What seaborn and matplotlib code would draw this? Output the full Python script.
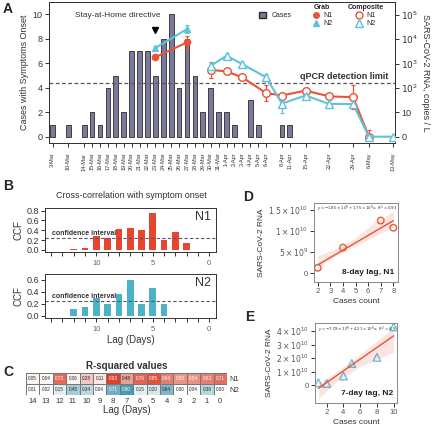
import numpy as np
import pandas as pd
import seaborn as sns
import matplotlib.pyplot as plt
from matplotlib.lines import Line2D
from matplotlib.patches import Patch
from matplotlib.ticker import NullLocator
from matplotlib.colors import LinearSegmentedColormap

# ---- panel A data ----
axis_days = ['3-Mar', None, '10-Mar', None, '14-Mar', '15-Mar', '16-Mar', '17-Mar', '18-Mar',
             '19-Mar', '20-Mar', '21-Mar', '22-Mar', '23-Mar', '24-Mar', '25-Mar', '26-Mar',
             '27-Mar', '28-Mar', '29-Mar', '30-Mar', '31-Mar', '1-Apr', '2-Apr', '3-Apr',
             '4-Apr', '5-Apr', '6-Apr', None, '8-Apr', '11-Apr', None, '15-Apr', None, None,
             '22-Apr', None, None, '29-Apr', None, '6-May', None, None, '13-May']
case_days = ['3-Mar', '10-Mar', '14-Mar', '15-Mar', '16-Mar', '17-Mar', '18-Mar', '19-Mar',
             '20-Mar', '21-Mar', '22-Mar', '23-Mar', '24-Mar', '25-Mar', '26-Mar', '27-Mar',
             '28-Mar', '29-Mar', '30-Mar', '31-Mar', '1-Apr', '2-Apr', '4-Apr', '5-Apr',
             '8-Apr', '11-Apr']
case_counts = [1, 1, 1, 2, 1, 4, 5, 2, 7, 7, 7, 5, 8, 10, 4, 8, 5, 2, 4, 2, 2, 1, 3, 1, 1, 1]

grab_days = ['23-Mar', '27-Mar']
grab_n1 = [1860, 7400]
grab_n1_err = [0.06, 0.27]      # log10 units
grab_n2 = [4400, 26000]
grab_n2_err = [0.08, 0.17]

comp_days = ['30-Mar', '1-Apr', '3-Apr', '6-Apr', '8-Apr', '15-Apr', '22-Apr', '29-Apr',
             '6-May', '13-May']
comp_n1 = [550, 480, 270, 62, 49, 78, 45, 42, 0, np.nan]
comp_n1_err = [0.33, 0.1, 0.06, 0.34, 0.1, 0.12, 0.08, 0.48, 0.27, 0]
comp_n2 = [810, 2100, 950, 275, 23, 49, 22, 22, 0, 0]
comp_n2_err = [0.1, 0.1, 0.08, 0.15, 0.4, 0.08, 0.05, 0.12, 0, 0]
qpcr_limit = 160

# ---- panel B / C data ----
lags = list(range(14, -1, -1))
ccf_n1 = [0, 0, 0.02, 0.04, 0.28, 0.25, 0.42, 0.45, 0.41, 0.75, 0.20, 0.36, 0.15, 0, 0]
ccf_n2 = [0, 0, 0.11, 0.155, 0.29, 0.20, 0.37, 0.59, 0.19, 0.46, 0.19, 0, 0, 0, 0]
ccf_ci = 0.25
r2_n1 = [0.05, 0.04, 0.73, 0.06, 0.28, 0.11, 0.93, 0.48, 0.76, 0.85, 0.64, 0.53, 0.54, 0.63, 0.71]
r2_n2 = [0.01, 0.02, 0.15, 0.45, 0.34, 0.04, 0.71, 0.90, 0.15, 0.20, 0.64, 0.00, 0.04, 0.36, 0.03]

# ---- panel D / E data ----
d_cases = [2, 4, 7, 8]
d_rna = [1.3e9, 6.1e9, 1.25e10, 1.08e10]
e_cases = [1, 2, 4, 5, 8, 10]
e_rna = [0.18e10, 0.12e10, 0.68e10, 1.6e10, 2.05e10, 4.3e10]

RED = '#ea5338'
CYAN = '#5ec3da'
BAR = '#7c7a9c'
TXT = '#333333'

sns.set_style('ticks')
plt.rcParams['font.family'] = ['Liberation Sans', 'DejaVu Sans']
plt.rcParams['axes.linewidth'] = 0.7
plt.rcParams['axes.edgecolor'] = '#333333'
plt.rcParams['xtick.major.width'] = 0.7
plt.rcParams['ytick.major.width'] = 0.7
plt.rcParams['xtick.color'] = TXT
plt.rcParams['ytick.color'] = TXT

W, H = 436, 440
fig = plt.figure(figsize=(W / 100, H / 100), dpi=100)


def rect(l, t, r, b):
    return [l / W, 1 - b / H, (r - l) / W, (b - t) / H]


pos = {d: i for i, d in enumerate(axis_days) if d}


def to_axis(v):
    v = np.asarray(v, dtype=float)
    return np.where(v == 0, 1.0, v)


# ================= A =================
axA = fig.add_axes(rect(49, 2, 395, 143))
sns.barplot(x=[pos[d] for d in case_days], y=case_counts, native_scale=True, width=0.6,
            color=BAR, saturation=1, edgecolor='#2a2a2a', linewidth=0.6, errorbar=None, ax=axA)
axA.set_ylim(-0.49, 10.98)
axA.set_yticks(range(0, 11, 2))
axA.tick_params(axis='y', labelsize=6.5, length=3, pad=1.5)
axA.set_ylabel('Cases with Symptoms Onset', fontsize=6.5, color=TXT, labelpad=3)
tick_days = [d for d in axis_days if d]
axA.set_xticks([pos[d] for d in tick_days])
axA.set_xticklabels(tick_days, rotation=90, fontsize=4)
axA.tick_params(axis='x', length=3, pad=4)
axA.set_xlabel('')
axA.plot(pos['23-Mar'], 8.7, marker='v', color='black', ms=4.5)
axA.text(8.2, 9.9, 'Stay-at-Home directive', ha='center', va='center', fontsize=6, color=TXT)

axR = axA.twinx()
axR.set_yscale('log')
series = [
    (grab_days, grab_n1, grab_n1_err, RED, 'o', RED, 4.5),
    (grab_days, grab_n2, grab_n2_err, CYAN, '^', CYAN, 5),
    (comp_days, comp_n1, comp_n1_err, RED, 'o', 'white', 5.5),
    (comp_days, comp_n2, comp_n2_err, CYAN, '^', 'white', 6),
]
for days, vals, errs, col, mk, face, ms in series:
    vals = np.asarray(vals, dtype=float)
    keep = ~np.isnan(vals)
    x = np.array([pos[d] for d in days])[keep]
    y = to_axis(vals[keep])
    e = np.asarray(errs)[keep]
    lo = np.where(vals[keep] == 0, 0, y * (1 - 10 ** -e))
    hi = y * (10 ** e - 1)
    axR.errorbar(x, y, yerr=[lo, hi], fmt='none', ecolor=col, elinewidth=0.9, capsize=1.5,
                 capthick=0.9, zorder=2)
    sns.lineplot(x=x, y=y, color=col, marker=mk, markersize=ms, markerfacecolor=face,
                 markeredgecolor=col, markeredgewidth=1, linewidth=1.5, errorbar=None,
                 sort=False, ax=axR, zorder=3)
axR.axhline(qpcr_limit, color='#555555', ls=(0, (3, 2)), lw=0.9)
axR.text(42.4, qpcr_limit * 1.25, 'qPCR detection limit', ha='right', va='bottom',
         fontsize=6.5, fontweight='bold', color=TXT)
axR.set_ylim(10 ** -0.26, 10 ** 5.53)
axR.set_yticks([1, 10, 1e2, 1e3, 1e4, 1e5])
axR.set_yticklabels(['0', '10', '$10^2$', '$10^3$', '$10^4$', '$10^5$'])
axR.yaxis.set_minor_locator(NullLocator())
axR.tick_params(axis='y', labelsize=6.5, length=3, pad=1.5)
axR.set_ylabel('SARS-CoV-2 RNA, copies / L', fontsize=6.5, color=TXT, rotation=270,
               labelpad=8)
axR.set_xlabel('')
axA.set_xlim(-0.45, 43.3)

leg1 = axR.legend(handles=[Patch(facecolor=BAR, edgecolor='#2a2a2a', label='Cases')],
                  loc='center', bbox_to_anchor=(0.655, 0.905), frameon=False, fontsize=5,
                  handlelength=1, handleheight=1, handletextpad=0.8)
axR.add_artist(leg1)
grab_h = [Line2D([], [], color=RED, marker='o', ms=4, lw=0, label='N1'),
          Line2D([], [], color=CYAN, marker='^', ms=4.5, lw=0, label='N2')]
leg2 = axR.legend(handles=grab_h, title='Grab', loc='upper center',
                  bbox_to_anchor=(0.79, 1.02), frameon=False, fontsize=5,
                  title_fontproperties={'weight': 'bold', 'size': 5}, handlelength=1,
                  labelspacing=0.15, borderpad=0.2, handletextpad=0.6)
axR.add_artist(leg2)
comp_h = [Line2D([], [], color=RED, marker='o', ms=5, mfc='white', lw=0, label='N1'),
          Line2D([], [], color=CYAN, marker='^', ms=5.5, mfc='white', lw=0, label='N2')]
axR.legend(handles=comp_h, title='Composite', loc='upper center',
           bbox_to_anchor=(0.915, 1.02), frameon=False, fontsize=5,
           title_fontproperties={'weight': 'bold', 'size': 5}, handlelength=1,
           labelspacing=0.15, borderpad=0.2, handletextpad=0.6)

# ================= B =================
fig.text(131 / W, 1 - 195 / H, 'Cross-correlation with symptom onset', ha='center',
         va='center', fontsize=6.5, color=TXT)
for rc, vals, col, name, top, ymax in [
        ((45, 208, 216, 252), ccf_n1, '#e8452f', 'N1', 0.855, 0.8),
        ((45, 274, 216, 318), ccf_n2, '#4bb2c8', 'N2', 0.695, 0.6)]:
    ax = fig.add_axes(rect(*rc))
    sns.barplot(x=lags, y=vals, native_scale=True, width=0.6, color=col, saturation=1,
                linewidth=0, errorbar=None, ax=ax)
    ax.axhline(ccf_ci, color='#555577', ls=(0, (3, 2)), lw=0.8)
    ax.text(13.9, ccf_ci + 0.015, 'confidence interval', fontsize=5, fontweight='bold',
            color=TXT, va='bottom', ha='left')
    ax.text(0.97, 0.93, name, transform=ax.transAxes, fontsize=9, ha='right', va='top',
            color=TXT)
    ax.set_xlim(14.55, -0.6)
    ax.set_ylim(-top * 0.05, top)
    ax.set_yticks(np.arange(0, ymax + 0.01, 0.2))
    ax.set_yticklabels([f'{v:.1f}' for v in np.arange(0, ymax + 0.01, 0.2)])
    ax.set_xticks(range(0, 15))
    ax.set_xticklabels([str(v) if v % 5 == 0 else '' for v in range(0, 15)])
    ax.tick_params(axis='y', labelsize=6.5, length=3, pad=1.5)
    ax.tick_params(axis='x', labelsize=5.5, length=3, pad=3, labelcolor='#666666')
    ax.set_ylabel('CCF', fontsize=7, color=TXT, labelpad=2)
    ax.set_xlabel('')
ax.set_xlabel('Lag (Days)', fontsize=7, color=TXT, labelpad=1)

# ================= C =================
axC = fig.add_axes(rect(26, 373, 227, 395))
r2 = pd.DataFrame([r2_n1, r2_n2], index=['N1', 'N2'], columns=lags)
reds = LinearSegmentedColormap.from_list('r', ['white', '#d8341f'])
blues = LinearSegmentedColormap.from_list('b', ['white', '#3590ab'])
row_mask = np.array([[False] * 15, [True] * 15])
for m, cm in [(row_mask, reds), (~row_mask, blues)]:
    sns.heatmap(r2, mask=m, cmap=cm, vmin=0, vmax=1, annot=True, fmt='.2f',
                annot_kws={'size': 3.3}, linewidths=0.6, linecolor='#777777', cbar=False,
                xticklabels=True, yticklabels=True, ax=axC)
axC.set_title('R-squared values', fontsize=7, fontweight='bold', color=TXT, pad=3)
axC.set_xticklabels(lags, fontsize=5.5, rotation=0)
axC.yaxis.tick_right()
axC.set_yticklabels(['N1', 'N2'], fontsize=5.5, rotation=0)
axC.tick_params(length=0, pad=2)
axC.set_xlabel('Lag (Days)', fontsize=7, color=TXT, labelpad=0)
axC.set_ylabel('')

# ================= D / E =================
axD = fig.add_axes(rect(314, 203, 398, 282))
sns.regplot(x=d_cases, y=d_rna, color=RED, marker='o', ci=80, n_boot=2000, seed=1, ax=axD,
            scatter_kws={'s': 22, 'facecolors': 'none', 'edgecolors': RED, 'linewidths': 1,
                         'alpha': 1},
            line_kws={'color': RED, 'lw': 1})
axD.set_xlim(1.7, 8.37)
axD.set_ylim(-2.06e9, 1.666e10)
axD.set_xticks(range(2, 9))
axD.set_yticks([0, 5e9, 1e10, 1.5e10])
axD.set_yticklabels(['0', r'$5\times10^9$', r'$1\times10^{10}$', r'$1.5\times10^{10}$'])
axD.text(0.04, 0.93, r'$y=-1.85\times10^{9}+1.75\times10^{9}x,\ R^2=0.93$',
         transform=axD.transAxes, fontsize=2.8, va='center', color=TXT)
axD.text(0.96, 0.07, '8-day lag, N1', transform=axD.transAxes, fontsize=6,
         fontweight='bold', ha='right', va='bottom', color='#222222')

axE = fig.add_axes(rect(315, 323, 397, 403))
sns.regplot(x=e_cases, y=e_rna, color=CYAN, marker='^', ci=95, n_boot=2000, seed=1, ax=axE,
            scatter_kws={'s': 30, 'facecolors': 'none', 'edgecolors': CYAN, 'linewidths': 1,
                         'alpha': 1},
            line_kws={'color': RED, 'lw': 1})
axE.set_xlim(0.6, 10.4)
axE.set_ylim(-1.32e10, 4.59e10)
axE.set_xticks([2, 4, 6, 8, 10])
axE.set_yticks([0, 1e10, 2e10, 3e10, 4e10])
axE.set_yticklabels(['0'] + [rf'${k}\times10^{{10}}$' for k in range(1, 5)])
axE.text(0.04, 0.92, r'$y=-7.09\times10^{9}+4.21\times10^{9}x,\ R^2=0.9$',
         transform=axE.transAxes, fontsize=2.8, va='center', color=TXT)
axE.text(0.96, 0.07, '7-day lag, N2', transform=axE.transAxes, fontsize=6,
         fontweight='bold', ha='right', va='bottom', color='#222222')

for ax in (axD, axE):
    ax.tick_params(labelsize=5.5, length=3, pad=1.5, labelcolor='#555555')
    ax.set_ylabel('SARS-CoV-2 RNA', fontsize=6, color=TXT, labelpad=2)
    ax.set_xlabel('Cases count', fontsize=6, color=TXT, labelpad=2)
    for s in ax.spines.values():
        s.set_color('#888888')

# panel letters
for letter, x, y in [('A', 8, 9), ('B', 8, 186), ('C', 8, 372), ('D', 248, 197),
                     ('E', 250, 317)]:
    fig.text(x / W, 1 - y / H, letter, fontsize=10, fontweight='bold', ha='center',
             va='center')

fig.savefig('out.png', dpi=100)
